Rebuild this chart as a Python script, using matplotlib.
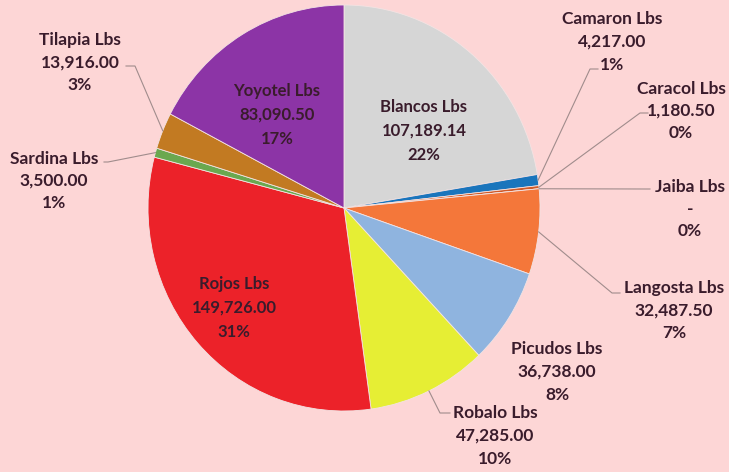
import numpy as np
import matplotlib.pyplot as plt

names = ['Blancos Lbs', 'Camaron Lbs', 'Caracol Lbs', 'Jaiba Lbs', 'Langosta Lbs',
         'Picudos Lbs', 'Robalo Lbs', 'Rojos Lbs', 'Sardina Lbs', 'Tilapia Lbs', 'Yoyotel Lbs']
values = [107189.14, 4217.00, 1180.50, 0.0, 32487.50,
          36738.00, 47285.00, 149726.00, 3500.00, 13916.00, 83090.50]
colors = ['#d6d6d6', '#1a75bc', '#d05a28', '#c8c8c8', '#f4773a',
          '#8fb4df', '#e6ee34', '#ec2229', '#6aa84f', '#c27a22', '#8c34a6']

# label centres in pixels from top-left; leader elbow and end (None = no line)
label_pos = [(424, 131), (612, 42), (681, 111), (690, 209), (674, 311),
             (557, 372), (495, 436), (234, 308), (54, 181), (80, 63), (277, 115)]
inside = [True, False, False, False, False, False, False, True, False, False, True]
elbows = [None, (590, 69), (640, 113), (645, 189), (612, 293),
          None, (440, 413), None, (108, 162), (135, 66), None]
line_end = [None, (598, 69), (648, 113), (650, 189), (620, 293),
            None, (450, 413), None, (104, 162), (126, 66), None]

W, H = 729, 472
bg = '#fdd6d6'
fig = plt.figure(figsize=(W / 100, H / 100), dpi=100)
fig.patch.set_facecolor(bg)

# pie is slightly taller than wide in the reference
cx, cy, rx, ry = 344, H - 208, 196, 203
pax = fig.add_axes([0, 0, 1, 1])
wedges, _ = pax.pie(values, colors=colors, startangle=90, counterclock=False,
                    center=(0, 0), radius=1, frame=True,
                    wedgeprops=dict(edgecolor='#f3e3e3', linewidth=0.6))
pax.set_aspect('auto')
pax.set_xlim(-cx / rx, (W - cx) / rx)
pax.set_ylim(-cy / ry, (H - cy) / ry)
pax.axis('off')

ax = fig.add_axes([0, 0, 1, 1])
ax.patch.set_alpha(0)
ax.set_xlim(0, W)
ax.set_ylim(0, H)
ax.axis('off')

total = sum(values)
for i, w in enumerate(wedges):
    if values[i] > 0:
        val = f'{values[i]:,.2f}'
    else:
        val = '-'
    pct = f'{round(values[i] / total * 100):.0f}%'
    tx, ty = label_pos[i]
    ax.text(tx, H - ty, f'{names[i]}\n{val}\n{pct}', ha='center', va='center',
            fontsize=12 if inside[i] else 12.5, fontweight='bold',
            family=['Lato', 'DejaVu Sans'], color='#3a1c2c',
            linespacing=1.6 if inside[i] else 1.5)
    if elbows[i] is not None:
        mid = np.deg2rad((w.theta1 + w.theta2) / 2)
        px, py = cx + rx * np.cos(mid), cy + ry * np.sin(mid)
        ex, ey = elbows[i]
        sx, sy = line_end[i]
        ax.plot([px, ex, sx], [py, H - ey, H - sy], color='#a08c8c', lw=0.8)

fig.savefig('out.png', dpi=100, facecolor=bg)
